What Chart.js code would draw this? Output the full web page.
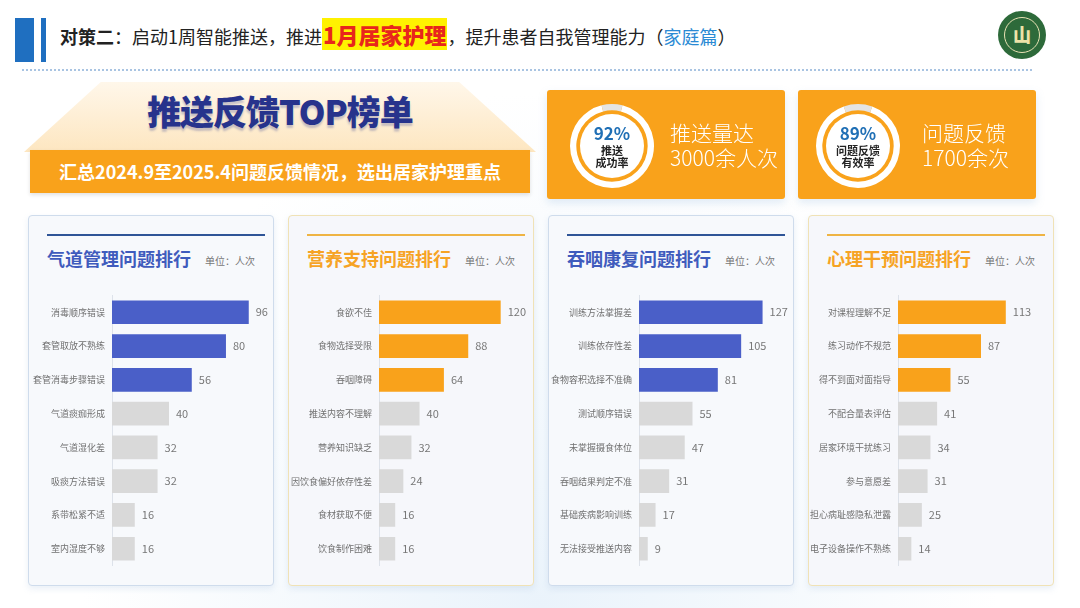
<!DOCTYPE html>
<html lang="zh-CN">
<head>
<meta charset="utf-8">
<title>推送反馈TOP榜单</title>
<script src="https://cdn.jsdelivr.net/npm/chart.js@4.4.1/dist/chart.umd.min.js"></script>
<style>
    html, body { margin: 0; padding: 0; }
    body {
        width: 1080px; height: 608px; position: relative; overflow: hidden;
        background: radial-gradient(ellipse at 50% 100%, #eaf3fb 0%, #ffffff 60%);
        font-family: "Noto Sans CJK SC", "Noto Sans", sans-serif;
    }
    .abs { position: absolute; }
    .bar-thick { left: 15px; top: 18px; width: 19px; height: 44px; background: #1f6fc0; }
    .bar-thin { left: 41px; top: 18px; width: 5px; height: 44px; background: #1f6fc0; }
    .head { left: 60px; top: 20px; font-size: 18px; line-height: 28px; color: #222; white-space: nowrap; }
    .head b { font-weight: 700; }
    .head .hot { font-size: 22px; font-weight: 900; color: #e8261c; background: #fff200; padding: 0 1px; }
    .head .blue { color: #2a8ad4; }
    .dots { left: 22px; top: 69px; width: 1010px; border-top: 2px dotted #a9c4e2; }
    .logo { left: 998px; top: 11px; width: 48px; height: 48px; border-radius: 50%; background: #2d6a3a; }
    .logo .ring { position: absolute; left: 6px; top: 6px; width: 34px; height: 34px; border-radius: 50%; border: 1px solid #e9e2b4; }
    .logo .mark { position: absolute; left: 0; top: 11px; width: 48px; text-align: center; font-size: 18px; line-height: 24px; font-weight: 900; color: #eee3a8; }
    .trap {
        left: 24px; top: 82px; width: 512px; height: 70px;
        clip-path: polygon(15% 0, 85% 0, 100% 100%, 0 100%);
        background: linear-gradient(#fff7ea, #fde6c0);
    }
    .toptitle { left: 24px; top: 90px; width: 512px; text-align: center; font-size: 34px; line-height: 42px; font-weight: 900; color: #27338c; letter-spacing: -1px; text-shadow: 0 3px 2px rgba(39,51,140,0.25); }
    .strip { left: 30px; top: 150px; width: 500px; height: 43px; background: #f9a21b; box-shadow: 0 2px 4px rgba(0,0,0,0.12); }
    .strip span { display: block; text-align: center; color: #fff; font-size: 18px; line-height: 43px; font-weight: 700; }
    .stat { top: 90px; width: 238px; height: 109px; background: #f9a21b; border-radius: 3px; box-shadow: 0 4px 8px rgba(140,180,220,0.25); }
    .disc { width: 64px; height: 64px; border-radius: 50%; background: #fff; }
    .pct { width: 90px; text-align: center; font-size: 17px; line-height: 20px; font-weight: 700; color: #1f6fb5; }
    .pctsub { width: 90px; text-align: center; font-size: 11px; line-height: 12px; font-weight: 700; color: #222; }
    .stattext { color: #fff; font-size: 21px; line-height: 25px; font-weight: 300; white-space: nowrap; }
    .panel { top: 215px; width: 244px; height: 369px; border-radius: 4px; box-shadow: 0 3px 6px rgba(140,170,210,0.18); }
    .panel.blue { background: #f7f9fc; border: 1px solid #cfdcec; }
    .panel.orange { background: #f6f7fb; border: 1px solid #f0e2b6; }
    .rule { position: absolute; left: 18px; top: 18px; width: 218px; height: 2px; }
    .ptitle { position: absolute; left: 18px; top: 30px; font-size: 18px; line-height: 24px; font-weight: 700; white-space: nowrap; }
    .unit { position: absolute; left: 176px; top: 39px; font-size: 10px; line-height: 12px; color: #777; white-space: nowrap; }
    .chartbox { top: 283px; width: 245px; height: 295px; }
</style>
</head>
<body>

<div class="abs bar-thick"></div>
<div class="abs bar-thin"></div>
<div class="abs head"><b>对策二</b>：启动1周智能推送，推进<span class="hot">1月居家护理</span>，提升患者自我管理能力（<span class="blue">家庭篇</span>）</div>
<div class="abs dots"></div>
<div class="abs logo"><div class="ring"></div><div class="mark">山</div></div>

<div class="abs trap"></div>
<div class="abs toptitle">推送反馈TOP榜单</div>
<div class="abs strip"><span>汇总2024.9至2025.4问题反馈情况，选出居家护理重点</span></div>

<div class="abs stat" style="left:547px;"></div>
<div class="abs stat" style="left:798px;"></div>

<div class="abs disc" style="left:580px; top:114px;"></div>
<div class="abs disc" style="left:826px; top:114px;"></div>
<div class="abs" style="left:567px; top:101px; width:90px; height:90px;"><canvas id="ringPush" width="90" height="90"></canvas></div>
<div class="abs" style="left:813px; top:101px; width:90px; height:90px;"><canvas id="ringFeedback" width="90" height="90"></canvas></div>
<div class="abs pct" style="left:567px; top:123px;">92%</div>
<div class="abs pctsub" style="left:567px; top:144px;">推送<br>成功率</div>
<div class="abs pct" style="left:813px; top:123px;">89%</div>
<div class="abs pctsub" style="left:813px; top:144px;">问题反馈<br>有效率</div>

<div class="abs stattext" style="left:670px; top:120px;">推送量达<br>3000余人次</div>
<div class="abs stattext" style="left:922px; top:120px;">问题反馈<br>1700余次</div>

<div class="abs panel blue" style="left:28px;">
    <div class="rule" style="background:#2f5597;"></div>
    <div class="ptitle" style="color:#3f5bbd;">气道管理问题排行</div>
    <div class="unit">单位：人次</div>
</div>
<div class="abs panel orange" style="left:288px;">
    <div class="rule" style="background:#efb444;"></div>
    <div class="ptitle" style="color:#f6a324;">营养支持问题排行</div>
    <div class="unit">单位：人次</div>
</div>
<div class="abs panel blue" style="left:548px;">
    <div class="rule" style="background:#2f5597;"></div>
    <div class="ptitle" style="color:#3f5bbd;">吞咽康复问题排行</div>
    <div class="unit">单位：人次</div>
</div>
<div class="abs panel orange" style="left:808px;">
    <div class="rule" style="background:#efb444;"></div>
    <div class="ptitle" style="color:#f6a324;">心理干预问题排行</div>
    <div class="unit">单位：人次</div>
</div>

<div class="abs chartbox" style="left:28px;"><canvas id="airwayChart" width="245" height="295"></canvas></div>
<div class="abs chartbox" style="left:288px;"><canvas id="nutritionChart" width="245" height="295"></canvas></div>
<div class="abs chartbox" style="left:548px;"><canvas id="swallowChart" width="245" height="295"></canvas></div>
<div class="abs chartbox" style="left:808px;"><canvas id="mentalChart" width="245" height="295"></canvas></div>

<script>
// ring values (percent, remainder)
const pushRate = [92, 8];
const feedbackRate = [89, 11];

const airwayLabels = ["消毒顺序错误", "套管取放不熟练", "套管消毒步骤错误", "气道痰痂形成", "气道湿化差", "吸痰方法错误", "系带松紧不适", "室内湿度不够"];
const airwayValues = [96, 80, 56, 40, 32, 32, 16, 16];

const nutritionLabels = ["食欲不佳", "食物选择受限", "吞咽障碍", "推送内容不理解", "营养知识缺乏", "因饮食偏好依存性差", "食材获取不便", "饮食制作困难"];
const nutritionValues = [120, 88, 64, 40, 32, 24, 16, 16];

const swallowLabels = ["训练方法掌握差", "训练依存性差", "食物容积选择不准确", "测试顺序错误", "未掌握摄食体位", "吞咽结果判定不准", "基础疾病影响训练", "无法接受推送内容"];
const swallowValues = [127, 105, 81, 55, 47, 31, 17, 9];

const mentalLabels = ["对课程理解不足", "练习动作不规范", "得不到面对面指导", "不配合量表评估", "居家环境干扰练习", "参与意愿差", "担心病耻感隐私泄露", "电子设备操作不熟练"];
const mentalValues = [113, 87, 55, 41, 34, 31, 25, 14];

const BLUE = "#4a5fc8";
const ORANGE = "#f9a21b";
const GREY = "#d9d9d9";
const FONT = "'Noto Sans CJK SC', 'Noto Sans', sans-serif";

// draw the number just past the end of each bar
const valueLabels = {
    id: "valueLabels",
    afterDatasetsDraw(chart) {
        const ctx = chart.ctx;
        const meta = chart.getDatasetMeta(0);
        const values = chart.data.datasets[0].data;
        ctx.save();
        ctx.font = "11px " + FONT;
        ctx.fillStyle = "#777";
        ctx.textAlign = "left";
        ctx.textBaseline = "middle";
        meta.data.forEach((bar, i) => {
            ctx.fillText(String(values[i]), bar.x + 7, bar.y);
        });
        ctx.restore();
    }
};

function buildRing(canvasId, data, rotation) {
    const ctx = document.getElementById(canvasId).getContext("2d");
    return new Chart(ctx, {
        type: "doughnut",
        data: {
            datasets: [{
                data,
                backgroundColor: ["#ffffff", "#e4e4e4"],
                borderWidth: 0
            }]
        },
        options: {
            responsive: false,
            animation: false,
            cutout: "85%",
            rotation,
            layout: { padding: 3 },
            plugins: { legend: { display: false }, tooltip: { enabled: false } }
        }
    });
}

function buildRankChart(canvasId, labels, values, hilite, axisWidth, xMax) {
    const ctx = document.getElementById(canvasId).getContext("2d");
    const colors = values.map((v, i) => (i < 3 ? hilite : GREY));
    return new Chart(ctx, {
        type: "bar",
        data: {
            labels,
            datasets: [{
                data: values,
                backgroundColor: colors,
                barPercentage: 0.7,
                categoryPercentage: 1
            }]
        },
        options: {
            indexAxis: "y",
            responsive: false,
            animation: false,
            layout: { padding: { top: 10, bottom: 10, right: 10, left: 0 } },
            plugins: { legend: { display: false }, tooltip: { enabled: false } },
            scales: {
                x: { display: false, min: 0, max: xMax },
                y: {
                    grid: { display: true, color: "rgba(0,0,0,0)", drawTicks: false },
                    border: { display: true, color: "#dde2ea", width: 1 },
                    ticks: { color: "#707070", font: { size: 9, family: FONT }, padding: 7 },
                    afterFit(scale) { scale.width = axisWidth; }
                }
            }
        },
        plugins: [valueLabels]
    });
}

window.addEventListener("DOMContentLoaded", () => {
    buildRing("ringPush", pushRate, pushRate[1] * 1.8);
    buildRing("ringFeedback", feedbackRate, feedbackRate[1] * 1.8);

    buildRankChart("airwayChart", airwayLabels, airwayValues, BLUE, 84, 106);
    buildRankChart("nutritionChart", nutritionLabels, nutritionValues, ORANGE, 91, 142);
    buildRankChart("swallowChart", swallowLabels, swallowValues, BLUE, 91, 148);
    buildRankChart("mentalChart", mentalLabels, mentalValues, ORANGE, 90, 152);
});
</script>
</body>
</html>
